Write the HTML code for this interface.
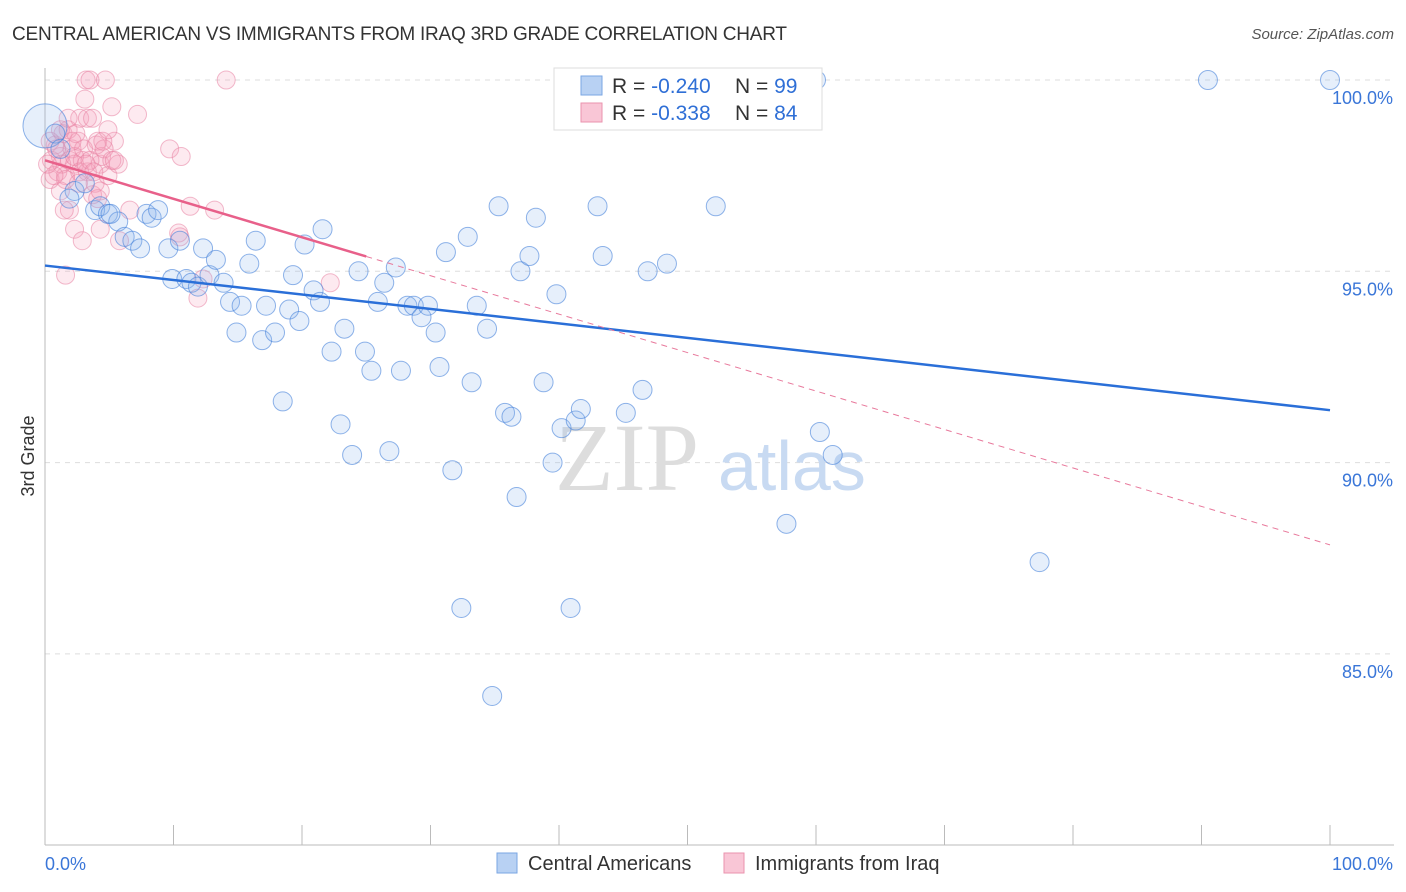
<!DOCTYPE html>
<html><head><meta charset="utf-8"><style>
body{margin:0;background:#fff;font-family:"Liberation Sans",sans-serif;}
svg{display:block}
</style></head><body>
<svg id="chart" width="1406" height="892" font-family="Liberation Sans, sans-serif">
<text x="12" y="40" font-size="19" fill="#333" textLength="775">CENTRAL AMERICAN VS IMMIGRANTS FROM IRAQ 3RD GRADE CORRELATION CHART</text>
<text x="1394" y="39" font-size="15" fill="#555" font-style="italic" text-anchor="end">Source: ZipAtlas.com</text>
<text transform="translate(34,456) rotate(-90)" font-size="18" fill="#333" text-anchor="middle">3rd Grade</text>
<g id="grid"></g>
<g id="axes"></g>
<g>
<text x="555" y="490" font-size="96" fill="#ddd" font-family="Liberation Serif, serif">ZIP</text>
<text x="718" y="490" font-size="70" fill="#c8daf2">atlas</text>
</g>
<g id="pts"></g>
<g id="trends"></g>
<g>
<rect x="554" y="68" width="268" height="62" fill="#fff" stroke="#ddd"/>
<rect x="581" y="76" width="21" height="19" fill="#b8d1f3" stroke="#7aa6e3"/>
<text x="612" y="93" font-size="21" fill="#333">R = <tspan fill="#2f6fd6">-0.240</tspan><tspan x="735">N = </tspan><tspan fill="#2f6fd6">99</tspan></text>
<rect x="581" y="103" width="21" height="19" fill="#f9c6d6" stroke="#ea93ae"/>
<text x="612" y="120" font-size="21" fill="#333">R =  <tspan fill="#2f6fd6">-0.338</tspan><tspan x="735">N = </tspan><tspan fill="#2f6fd6">84</tspan></text>
</g>
<g>
<rect x="497" y="853" width="20" height="20" fill="#b8d1f3" stroke="#7aa6e3"/>
<text x="528" y="870" font-size="20" fill="#333">Central Americans</text>
<rect x="724" y="853" width="20" height="20" fill="#f9c6d6" stroke="#ea93ae"/>
<text x="755" y="870" font-size="20" fill="#333">Immigrants from Iraq</text>
</g>
</svg>
<script>
const yTicks=[100,95,90,85];
const yTickLabels=["100.0%","95.0%","90.0%","85.0%"];
const xTickVals=[0,10,20,30,40,50,60,70,80,90,100];
const blueX=[90.5,100,60.0,0,0.8,1.2,2.3,3.1,3.9,4.3,4.9,5.7,6.2,6.8,7.4,7.9,8.3,8.8,9.6,9.9,10.5,11.0,11.4,11.9,12.3,12.8,13.3,13.9,14.4,14.9,15.3,15.9,16.4,16.9,17.2,17.9,18.5,19.0,19.3,19.8,20.2,20.9,21.4,21.6,22.3,23.0,23.3,23.9,24.4,24.9,25.4,25.9,26.4,26.8,27.3,27.7,28.2,28.7,29.3,29.8,30.4,30.7,31.2,31.7,32.4,32.9,33.2,33.6,34.4,34.8,35.3,35.8,36.3,36.7,37.0,37.7,38.2,38.8,39.5,39.8,40.2,40.9,41.3,41.7,43.0,43.4,45.2,46.5,46.9,48.4,52.2,57.7,60.3,61.3,77.4,1.9,5.1,49.1];
const blueY=[100,100,100,98.8,98.6,98.2,97.1,97.3,96.6,96.7,96.5,96.3,95.9,95.8,95.6,96.5,96.4,96.6,95.6,94.8,95.8,94.8,94.7,94.6,95.6,94.9,95.3,94.7,94.2,93.4,94.1,95.2,95.8,93.2,94.1,93.4,91.6,94.0,94.9,93.7,95.7,94.5,94.2,96.1,92.9,91.0,93.5,90.2,95.0,92.9,92.4,94.2,94.7,90.3,95.1,92.4,94.1,94.1,93.8,94.1,93.4,92.5,95.5,89.8,86.2,95.9,92.1,94.1,93.5,83.9,96.7,91.3,91.2,89.1,95.0,95.4,96.4,92.1,90.0,94.4,90.9,86.2,91.1,91.4,96.7,95.4,91.3,91.9,95.0,95.2,96.7,88.4,90.8,90.2,87.4,96.9,96.5,100];
const pinkX=[0.4,0.5,0.8,1.0,1.2,1.4,1.6,1.8,1.9,2.1,2.3,2.6,2.7,2.9,3.1,3.2,3.3,3.5,3.7,3.9,4.1,4.3,4.4,4.7,4.9,5.2,5.4,5.7,7.2,9.7,10.6,14.1,1.6,1.9,2.3,2.9,4.3,6.6,10.4,11.3,11.9,13.2,22.2,12.3,10.5,5.8,1.2,0.4,0.9,1.3,1.6,2.3,2.7,3.0,3.5,4.0,4.6,3.3,2.4,1.2,4.1,5.2,1.8,2.6,0.7,3.7,4.5,4.9,2.1,3.2,3.8,4.3,5.4,0.2,1.5];
const pinkY=[97.4,97.9,98.3,97.6,98.0,98.6,97.5,98.7,97.9,98.2,97.8,98.4,99.0,97.9,99.5,100,97.6,100,97.0,97.3,98.4,97.8,98.0,100,97.5,99.3,98.4,97.8,99.1,98.2,98.0,100,94.9,96.6,96.1,95.8,96.1,96.6,96.0,96.7,94.3,96.6,94.7,94.8,95.9,95.8,97.1,98.4,98.2,97.8,97.4,98.0,97.6,98.2,97.9,98.3,98.2,99.0,98.6,98.7,96.9,97.9,99.0,97.3,97.5,99.0,98.4,98.7,98.4,97.8,97.6,97.1,97.9,97.8,96.6];
const blueTrend=[95.15,91.37];
const pinkTrend=[97.9,87.85];
const pinkSolidEnd=25;

const NS="http://www.w3.org/2000/svg";
const X0=45,X1=1330;
function xs(v){return X0+(X1-X0)*v/100;}
function ys(v){return 80+(100-v)*38.26;}
function mk(tag,attrs,parent){const e=document.createElementNS(NS,tag);for(const k in attrs)e.setAttribute(k,attrs[k]);parent.appendChild(e);return e;}
const grid=document.getElementById('grid'),axes=document.getElementById('axes');
yTicks.forEach((t,i)=>{
 const l=mk('line',{x1:X0,x2:1394,y1:ys(t),y2:ys(t),stroke:'#ddd','stroke-dasharray':'5,5'},grid);
 
 
 const tx=mk('text',{x:1393,y:ys(t)+24,'font-size':18,fill:'#3a76d8','text-anchor':'end'},axes);
 tx.textContent=yTickLabels[i];
 
 
});
const ax=mk('line',{x1:X0,x2:1394,y1:845,y2:845,stroke:'#bbb'},axes);


const ay=mk('line',{x1:X0,x2:X0,y1:68,y2:845,stroke:'#bbb'},axes);


xTickVals.forEach(v=>{
 const t=mk('line',{x1:xs(v),x2:xs(v),y1:825,y2:845,stroke:'#bbb'},axes);
 
 
});
const xl0=mk('text',{x:45,y:870,'font-size':18,fill:'#3a76d8'},axes);xl0.textContent='0.0%';


const xl1=mk('text',{x:1393,y:870,'font-size':18,fill:'#3a76d8','text-anchor':'end'},axes);xl1.textContent='100.0%';


const pts=document.getElementById('pts');
pinkX.forEach((x,i)=>{
 const c=mk('circle',{cx:xs(x),cy:ys(pinkY[i]),r:9,fill:'rgba(244,160,188,0.22)',stroke:'rgba(232,130,162,0.55)','stroke-width':1},pts);
 
 
});
blueX.forEach((x,i)=>{
 const c=mk('circle',{cx:xs(x),cy:ys(blueY[i]),r:i==3?22:9.5,fill:'rgba(140,180,235,0.22)',stroke:'rgba(70,130,218,0.6)','stroke-width':1},pts);
 
 
});
const tr=document.getElementById('trends');
const b=mk('line',{x1:xs(0),y1:ys(blueTrend[0]),x2:xs(100),y2:ys(blueTrend[1]),stroke:'#2a6fd8','stroke-width':2.5},tr);


const py=v=>pinkTrend[0]+(pinkTrend[1]-pinkTrend[0])*v/100;
const pd=mk('line',{x1:xs(pinkSolidEnd),y1:ys(py(pinkSolidEnd)),x2:xs(100),y2:ys(py(100)),stroke:'#e8799c','stroke-width':1,'stroke-dasharray':'6,5'},tr);


const ps=mk('line',{x1:xs(0),y1:ys(py(0)),x2:xs(pinkSolidEnd),y2:ys(py(pinkSolidEnd)),stroke:'#e8608a','stroke-width':2.5},tr);


</script>
</body></html>
